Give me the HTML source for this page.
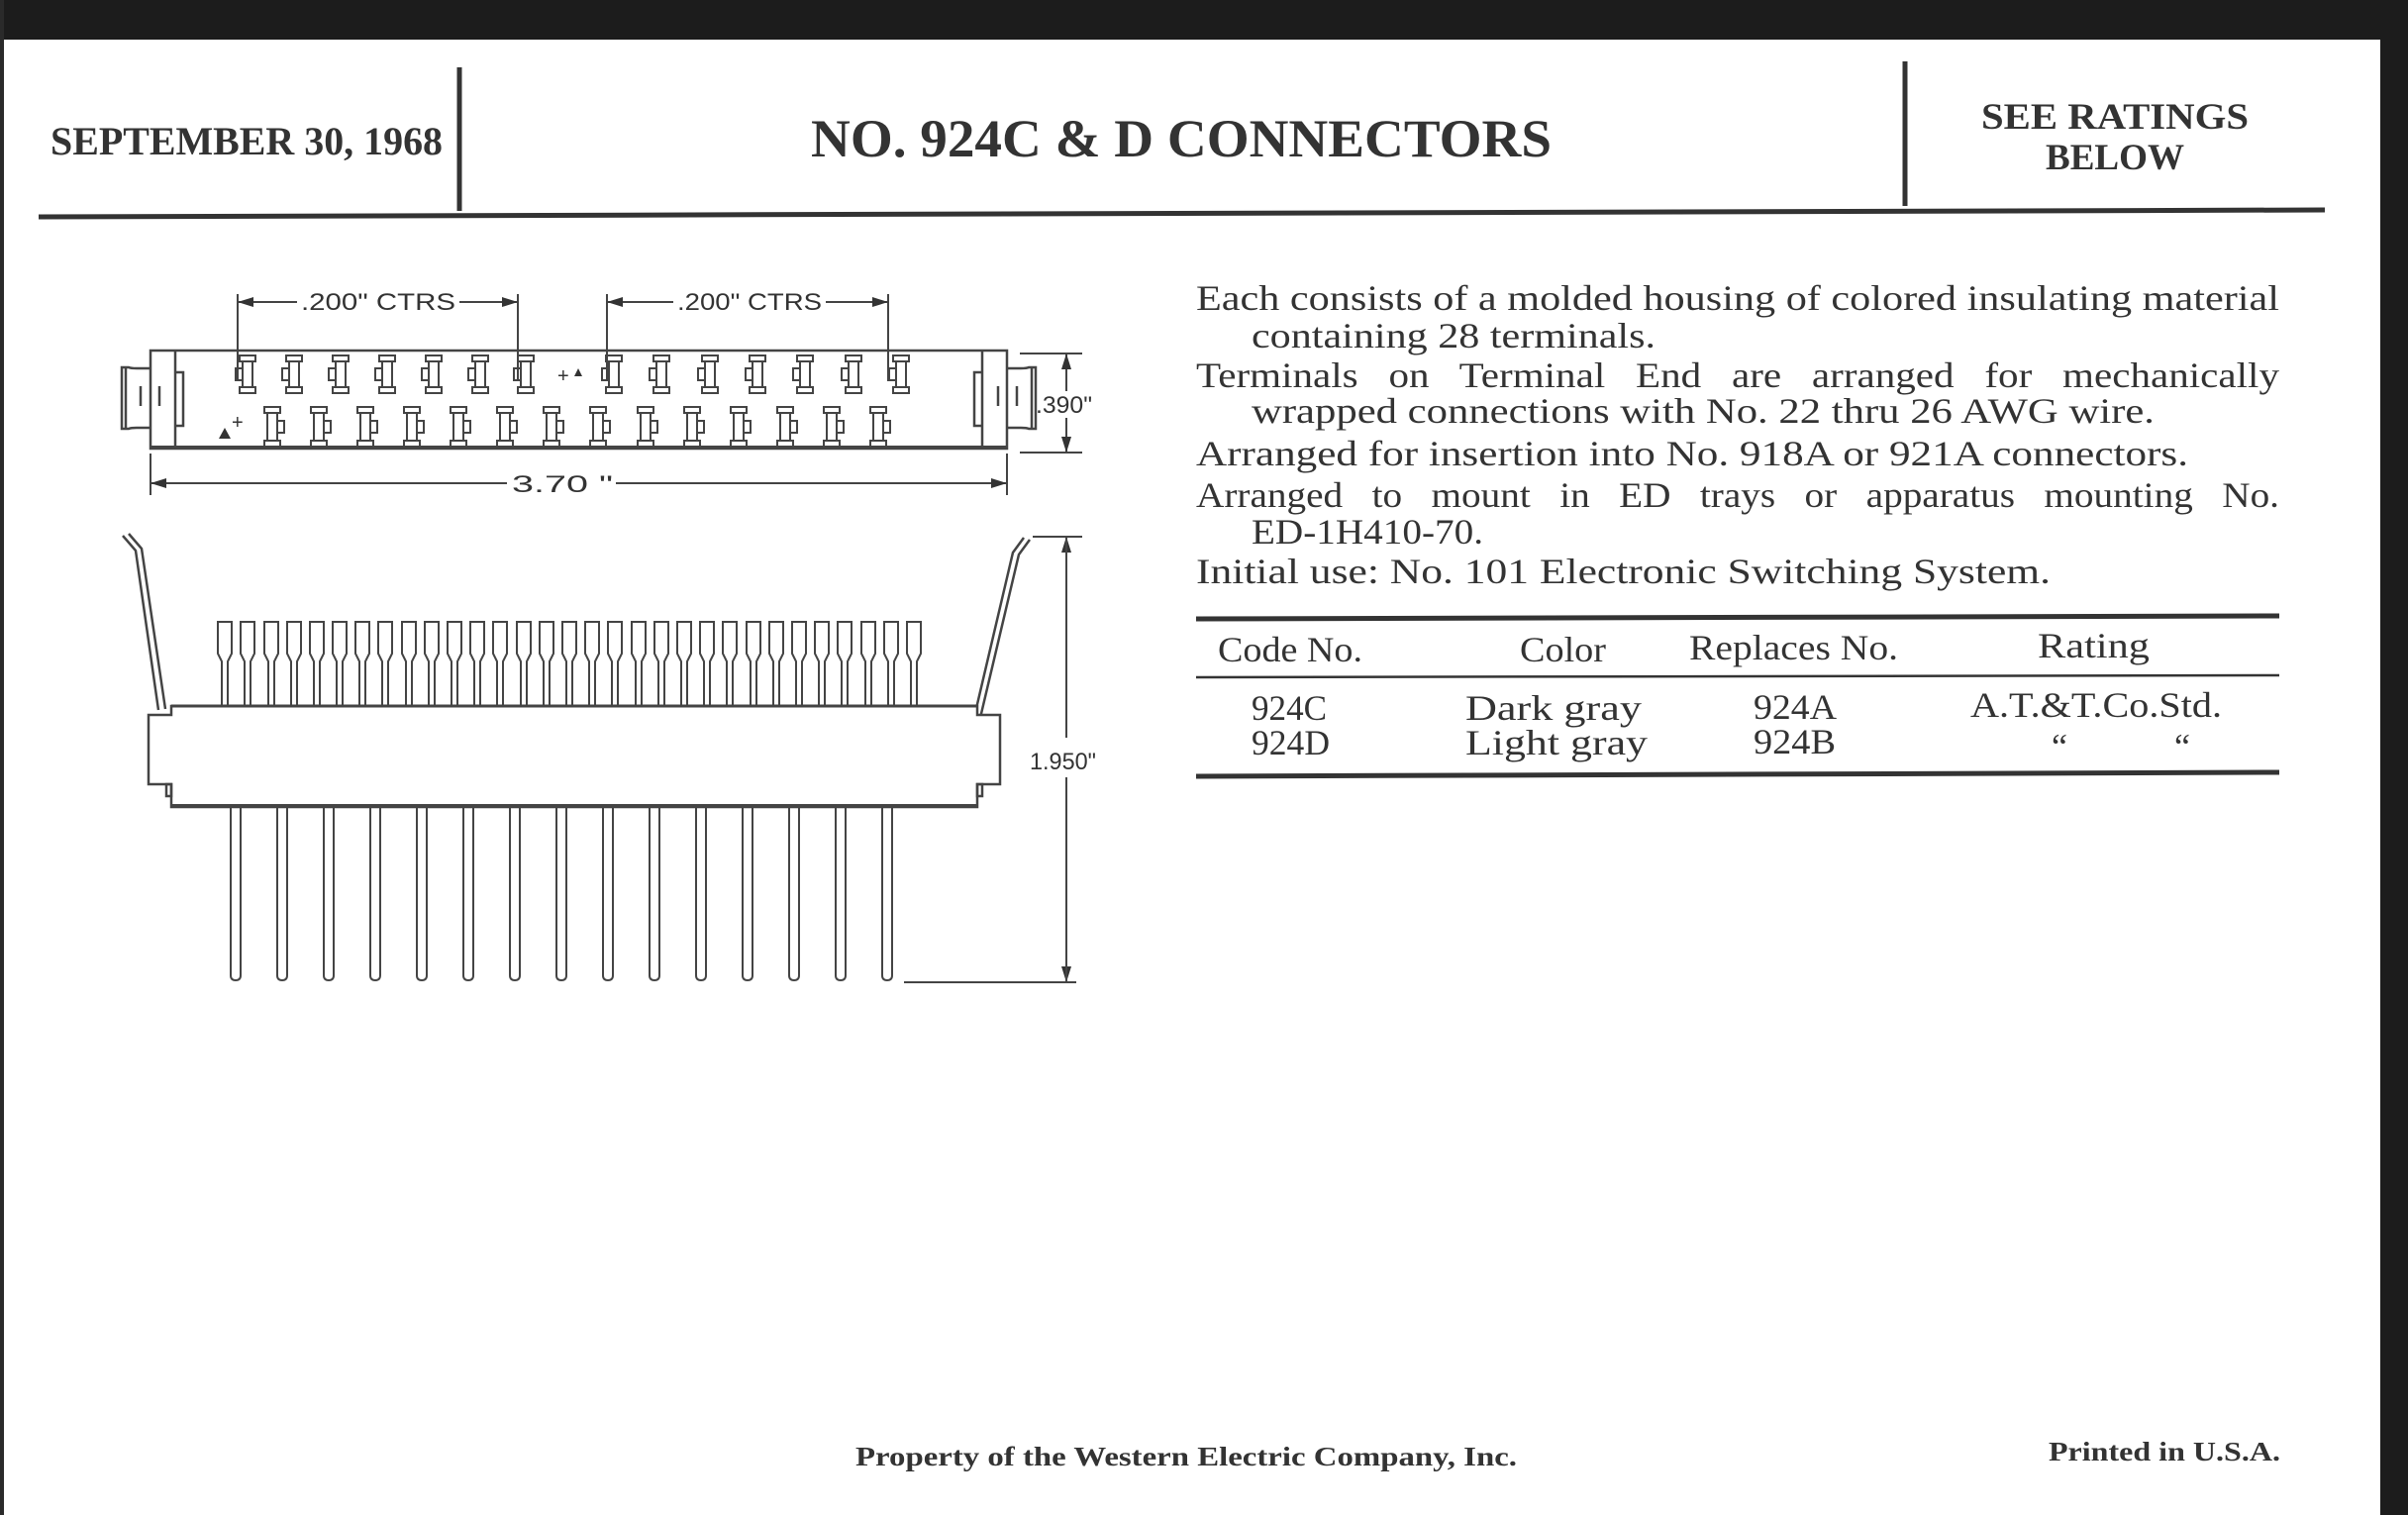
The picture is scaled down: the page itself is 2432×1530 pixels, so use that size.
<!DOCTYPE html>
<html><head><meta charset="utf-8"><style>
html,body{margin:0;padding:0;background:#fff;}
svg{display:block;}
</style></head><body>
<svg width="2432" height="1530" viewBox="0 0 2432 1530" xmlns="http://www.w3.org/2000/svg">
<defs>
<g id="tt"><rect x="-8" y="359" width="16" height="6"/><rect x="-5" y="365" width="10" height="26"/><rect x="-8" y="391" width="16" height="6"/><rect x="-12" y="372" width="7" height="12"/></g>
<g id="bt"><rect x="-8" y="411" width="16" height="6"/><rect x="-5" y="417" width="10" height="28"/><rect x="-8" y="445" width="16" height="6"/><rect x="5" y="425" width="7" height="12"/></g>
<path id="ww" d="M-3,713 V668 L-7,660 V628 H7 V660 L3,668 V713"/>
<path id="pin" d="M-5,815 V985 Q-5,990 0,990 Q5,990 5,985 V815"/>
</defs>
<rect x="0" y="0" width="2432" height="1530" fill="#fff"/>
<rect x="0" y="0" width="2432" height="40" fill="#1c1c1c"/>
<rect x="2404" y="0" width="28" height="1530" fill="#1c1c1c"/>
<rect x="0" y="0" width="4" height="1530" fill="#2a2a2a"/>

<g fill="#333" font-family="Liberation Serif, serif">
<text x="51" y="156" font-size="40" font-weight="bold" textLength="396" lengthAdjust="spacingAndGlyphs">SEPTEMBER 30, 1968</text>
<text x="819" y="158" font-size="54" font-weight="bold" textLength="748" lengthAdjust="spacingAndGlyphs">NO. 924C &amp; D CONNECTORS</text>
<text x="2001" y="130" font-size="37" font-weight="bold" textLength="270" lengthAdjust="spacingAndGlyphs">SEE RATINGS</text>
<text x="2066" y="171" font-size="37" font-weight="bold" textLength="140" lengthAdjust="spacingAndGlyphs">BELOW</text>
</g>
<line x1="464" y1="68" x2="464" y2="213" stroke="#333" stroke-width="5"/>
<line x1="1924" y1="62" x2="1924" y2="208" stroke="#333" stroke-width="5"/>
<line x1="39" y1="219" x2="2348" y2="212" stroke="#333" stroke-width="5"/>

<g fill="#333" font-family="Liberation Serif, serif" font-size="36">
<text x="1208" y="313" textLength="1094" lengthAdjust="spacingAndGlyphs">Each consists of a molded housing of colored insulating material</text>
<text x="1264" y="351" textLength="408" lengthAdjust="spacingAndGlyphs">containing 28 terminals.</text>
<text x="1208" y="391" textLength="1094" lengthAdjust="spacingAndGlyphs" word-spacing="18">Terminals on Terminal End are arranged for mechanically</text>
<text x="1264" y="427" textLength="912" lengthAdjust="spacingAndGlyphs">wrapped connections with No. 22 thru 26 AWG wire.</text>
<text x="1208" y="470" textLength="1002" lengthAdjust="spacingAndGlyphs">Arranged for insertion into No. 918A or 921A connectors.</text>
<text x="1208" y="512" textLength="1094" lengthAdjust="spacingAndGlyphs" word-spacing="18">Arranged to mount in ED trays or apparatus mounting No.</text>
<text x="1264" y="549" textLength="234" lengthAdjust="spacingAndGlyphs">ED-1H410-70.</text>
<text x="1208" y="589" textLength="863" lengthAdjust="spacingAndGlyphs">Initial use:  No. 101 Electronic Switching System.</text>
<text x="1230" y="668" textLength="146" lengthAdjust="spacingAndGlyphs">Code No.</text>
<text x="1535" y="668" textLength="87" lengthAdjust="spacingAndGlyphs">Color</text>
<text x="1706" y="666" textLength="211" lengthAdjust="spacingAndGlyphs">Replaces No.</text>
<text x="2058" y="664" textLength="113" lengthAdjust="spacingAndGlyphs">Rating</text>
<text x="1264" y="727" textLength="76" lengthAdjust="spacingAndGlyphs">924C</text>
<text x="1480" y="727" textLength="178" lengthAdjust="spacingAndGlyphs">Dark gray</text>
<text x="1771" y="726" textLength="84" lengthAdjust="spacingAndGlyphs">924A</text>
<text x="1990" y="724" textLength="254" lengthAdjust="spacingAndGlyphs">A.T.&amp;T.Co.Std.</text>
<text x="1264" y="762" textLength="79" lengthAdjust="spacingAndGlyphs">924D</text>
<text x="1480" y="762" textLength="184" lengthAdjust="spacingAndGlyphs">Light gray</text>
<text x="1771" y="761" textLength="83" lengthAdjust="spacingAndGlyphs">924B</text>
<text x="2072" y="766">“</text>
<text x="2196" y="766">“</text>
</g>
<line x1="1208" y1="625" x2="2302" y2="622" stroke="#333" stroke-width="5"/>
<line x1="1208" y1="684" x2="2302" y2="682" stroke="#333" stroke-width="2.5"/>
<line x1="1208" y1="784" x2="2302" y2="780" stroke="#333" stroke-width="5"/>

<g fill="#333" font-family="Liberation Serif, serif" font-size="27" font-weight="bold">
<text x="864" y="1480" textLength="668" lengthAdjust="spacingAndGlyphs">Property of the Western Electric Company, Inc.</text>
<text x="2069" y="1475" textLength="234" lengthAdjust="spacingAndGlyphs">Printed in U.S.A.</text>
</g>

<!-- TOP VIEW -->
<g stroke="#444" stroke-width="2.5" fill="none">
<rect x="152" y="354" width="865" height="99"/>
<line x1="152" y1="452" x2="1017" y2="452" stroke-width="4"/>
<line x1="177" y1="354" x2="177" y2="453"/>
<line x1="992" y1="354" x2="992" y2="453"/>
<path d="M152,372 H138 Q132,372 130,371 H123 V433 H130 Q132,432 138,432 H152"/>
<path d="M177,376 H185 V430 H177"/>
<line x1="127" y1="372" x2="127" y2="433"/>
<line x1="142" y1="390" x2="142" y2="410"/>
<line x1="161" y1="390" x2="161" y2="410"/>
<path d="M1017,372 H1031 Q1037,372 1039,371 H1046 V433 H1039 Q1037,432 1031,432 H1017"/>
<path d="M992,376 H984 V430 H992"/>
<line x1="1042" y1="372" x2="1042" y2="433"/>
<line x1="1027" y1="390" x2="1027" y2="410"/>
<line x1="1008" y1="390" x2="1008" y2="410"/>
</g>
<g stroke="#444" stroke-width="2" fill="#fff">
<use href="#tt" x="250"/><use href="#tt" x="297"/><use href="#tt" x="344"/><use href="#tt" x="391"/><use href="#tt" x="438"/><use href="#tt" x="485"/><use href="#tt" x="531"/>
<use href="#tt" x="620"/><use href="#tt" x="668"/><use href="#tt" x="717"/><use href="#tt" x="765"/><use href="#tt" x="813"/><use href="#tt" x="862"/><use href="#tt" x="910"/>
<use href="#bt" x="275"/><use href="#bt" x="322"/><use href="#bt" x="369"/><use href="#bt" x="416"/><use href="#bt" x="463"/><use href="#bt" x="510"/><use href="#bt" x="557"/>
<use href="#bt" x="604"/><use href="#bt" x="652"/><use href="#bt" x="699"/><use href="#bt" x="746"/><use href="#bt" x="793"/><use href="#bt" x="840"/><use href="#bt" x="887"/>
</g>
<g fill="#333" font-family="Liberation Sans, sans-serif" font-size="20">
<text x="563" y="386">+</text><polygon points="580,380 588,380 584,372"/>
<polygon points="221,443 233,443 227,432"/><text x="234" y="433">+</text>
</g>
<g stroke="#444" stroke-width="2" fill="none">
<line x1="240" y1="297" x2="240" y2="385"/><line x1="523" y1="297" x2="523" y2="385"/>
<line x1="613" y1="297" x2="613" y2="385"/><line x1="897" y1="297" x2="897" y2="385"/>
<line x1="240" y1="305" x2="300" y2="305"/><line x1="464" y1="305" x2="523" y2="305"/>
<line x1="613" y1="305" x2="680" y2="305"/><line x1="834" y1="305" x2="897" y2="305"/>
<line x1="1030" y1="357" x2="1093" y2="357"/><line x1="1030" y1="457" x2="1093" y2="457"/>
<line x1="1077" y1="357" x2="1077" y2="395"/><line x1="1077" y1="422" x2="1077" y2="457"/>
<line x1="152" y1="458" x2="152" y2="500"/><line x1="1017" y1="458" x2="1017" y2="500"/>
<line x1="152" y1="488" x2="512" y2="488"/><line x1="622" y1="488" x2="1017" y2="488"/>
</g>
<g fill="#333">
<polygon points="240,305 256,300 256,310"/><polygon points="523,305 507,300 507,310"/>
<polygon points="613,305 629,300 629,310"/><polygon points="897,305 881,300 881,310"/>
<polygon points="1077,357 1072,373 1082,373"/><polygon points="1077,457 1072,441 1082,441"/>
<polygon points="152,488 168,483 168,493"/><polygon points="1017,488 1001,483 1001,493"/>
<polygon points="1077,542 1072,558 1082,558"/><polygon points="1077,992 1072,976 1082,976"/>
</g>
<g fill="#333" font-family="Liberation Sans, sans-serif" font-size="24">
<text x="304" y="313" textLength="156" lengthAdjust="spacingAndGlyphs">.200" CTRS</text>
<text x="684" y="313" textLength="146" lengthAdjust="spacingAndGlyphs">.200" CTRS</text>
<text x="1046" y="417" textLength="57" lengthAdjust="spacingAndGlyphs">.390"</text>
<text x="517" y="497" textLength="102" lengthAdjust="spacingAndGlyphs">3.70 "</text>
<text x="1040" y="777" textLength="67" lengthAdjust="spacingAndGlyphs">1.950"</text>
</g>

<!-- SIDE VIEW -->
<g stroke="#444" stroke-width="2.5" fill="none">
<path d="M124,541 L137,556 L160,717"/>
<path d="M130,539 L143,554 L167,716"/>
<path d="M1040,545 L1029,560 L990,725"/>
<path d="M1034,543 L1023,558 L984,724"/>
<path d="M173,713 H987 V722 H1010 V792 H987 V815 H173 V792 H150 V722 H173 Z" fill="#fff"/>
<line x1="173" y1="814" x2="987" y2="814" stroke-width="4"/>
<line x1="173" y1="713" x2="987" y2="713" stroke-width="3"/>
<rect x="168" y="792" width="5" height="12"/>
<rect x="987" y="792" width="5" height="12"/>
<line x1="1043" y1="542" x2="1093" y2="542" stroke-width="2"/>
<line x1="913" y1="992" x2="1087" y2="992" stroke-width="2"/>
<line x1="1077" y1="542" x2="1077" y2="745" stroke-width="2"/>
<line x1="1077" y1="785" x2="1077" y2="992" stroke-width="2"/>
</g>
<g stroke="#444" stroke-width="2" fill="none">
<use href="#ww" x="227"/><use href="#ww" x="250"/><use href="#ww" x="274"/><use href="#ww" x="297"/><use href="#ww" x="320"/><use href="#ww" x="343"/><use href="#ww" x="366"/><use href="#ww" x="389"/><use href="#ww" x="413"/><use href="#ww" x="436"/><use href="#ww" x="459"/><use href="#ww" x="482"/><use href="#ww" x="505"/><use href="#ww" x="529"/><use href="#ww" x="552"/><use href="#ww" x="575"/><use href="#ww" x="598"/><use href="#ww" x="621"/><use href="#ww" x="645"/><use href="#ww" x="668"/><use href="#ww" x="691"/><use href="#ww" x="714"/><use href="#ww" x="737"/><use href="#ww" x="761"/><use href="#ww" x="784"/><use href="#ww" x="807"/><use href="#ww" x="830"/><use href="#ww" x="853"/><use href="#ww" x="877"/><use href="#ww" x="900"/><use href="#ww" x="923"/>
<use href="#pin" x="238"/><use href="#pin" x="285"/><use href="#pin" x="332"/><use href="#pin" x="379"/><use href="#pin" x="426"/><use href="#pin" x="473"/><use href="#pin" x="520"/><use href="#pin" x="567"/><use href="#pin" x="614"/><use href="#pin" x="661"/><use href="#pin" x="708"/><use href="#pin" x="755"/><use href="#pin" x="802"/><use href="#pin" x="849"/><use href="#pin" x="896"/>
</g>
</svg>
</body></html>
